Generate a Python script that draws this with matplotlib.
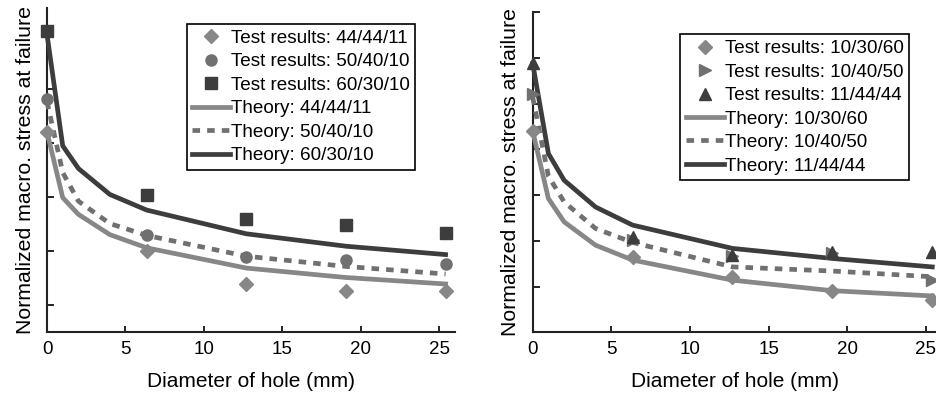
import numpy as np
import matplotlib
matplotlib.use("Agg")
import matplotlib.pyplot as plt

plt.rcParams['font.family'] = ['Liberation Sans', 'DejaVu Sans']

# hole diameters (mm)
d_test = [0, 6.35, 12.7, 19.05, 25.4]
d_theory = [0, 1, 2, 4, 6.35, 12.7, 19.05, 25.4]

# left panel
left_names = ['44/44/11', '50/40/10', '60/30/10']
left_test = [
    [0.843, 0.400, 0.280, 0.254, 0.254],
    [0.965, 0.462, 0.378, 0.368, 0.353],
    [1.216, 0.609, 0.521, 0.498, 0.467],
]
left_theory = [
    [0.842, 0.599, 0.537, 0.462, 0.413, 0.338, 0.303, 0.279],
    [0.954, 0.692, 0.586, 0.503, 0.459, 0.382, 0.344, 0.316],
    [1.203, 0.791, 0.707, 0.611, 0.553, 0.465, 0.419, 0.388],
]

# right panel
right_names = ['10/30/60', '10/40/50', '11/44/44']
right_test = [
    [0.880, 0.330, 0.240, 0.182, 0.141],
    [1.041, 0.403, 0.335, 0.345, 0.228],
    [1.177, 0.416, 0.338, 0.350, 0.352],
]
right_theory = [
    [0.880, 0.585, 0.483, 0.381, 0.316, 0.228, 0.182, 0.159],
    [1.029, 0.683, 0.570, 0.454, 0.393, 0.286, 0.268, 0.243],
    [1.176, 0.782, 0.665, 0.548, 0.469, 0.367, 0.323, 0.286],
]

colors = ['#878787', '#707070', '#3d3d3d']
line_styles = ['-', '--', '-']
markers_size = [7, 8, 8]


def draw(ax, names, test, theory, markers, ylim, yticks, xmax):
    for i in range(3):
        ax.plot(d_test, test[i], linestyle='none', marker=markers[i],
                color=colors[i], markersize=markers_size[i], clip_on=False,
                label='Test results: ' + names[i], zorder=4)
    for i in range(3):
        ln, = ax.plot(d_theory, theory[i], linestyle=line_styles[i],
                      color=colors[i], lw=3.4, clip_on=False,
                      label='Theory: ' + names[i], zorder=3)
        if line_styles[i] == '--':
            ln.set_dashes((1.6, 1.5))
    ax.set_xlim(0, xmax)
    ax.set_ylim(*ylim)
    ax.set_xticks([0, 5, 10, 15, 20, 25])
    ax.set_yticks(yticks)
    ax.set_yticklabels([])
    ax.tick_params(direction='in', length=4, width=1.2, labelsize=13.5, pad=6)
    ax.tick_params(axis='y', length=5)
    for s in ['top', 'right']:
        ax.spines[s].set_visible(False)
    for s in ['left', 'bottom']:
        ax.spines[s].set_linewidth(1.5)
        ax.spines[s].set_color('#222222')
    ax.set_xlabel('Diameter of hole (mm)', fontsize=15, labelpad=10)
    ax.set_ylabel('Normalized macro. stress at failure', fontsize=15.3, labelpad=3)


fig = plt.figure(figsize=(9.37, 3.97), dpi=100)
ax1 = fig.add_axes([0.0502, 0.163, 0.4354, 0.8156])
ax2 = fig.add_axes([0.5685, 0.163, 0.4315, 0.806])

draw(ax1, left_names, left_test, left_theory, ['D', 'o', 's'],
     (0.1, 1.3), [0.2, 0.4, 0.6, 0.8, 1.0, 1.2], 26)
draw(ax2, right_names, right_test, right_theory, ['D', '>', '^'],
     (0, 1.4), [0.2, 0.4, 0.6, 0.8, 1.0, 1.2, 1.4], 25.7)

for ax, anchor in [(ax1, (0.342, 0.952)), (ax2, (0.365, 0.931))]:
    leg = ax.legend(loc='upper left', bbox_to_anchor=anchor, fontsize=13.6,
                    handlelength=2.0, handletextpad=0.05, labelspacing=0.33,
                    borderpad=0.3, fancybox=False, framealpha=1,
                    edgecolor='black', borderaxespad=0)
    leg.get_frame().set_linewidth(1.2)

fig.savefig('out.png', dpi=100)
